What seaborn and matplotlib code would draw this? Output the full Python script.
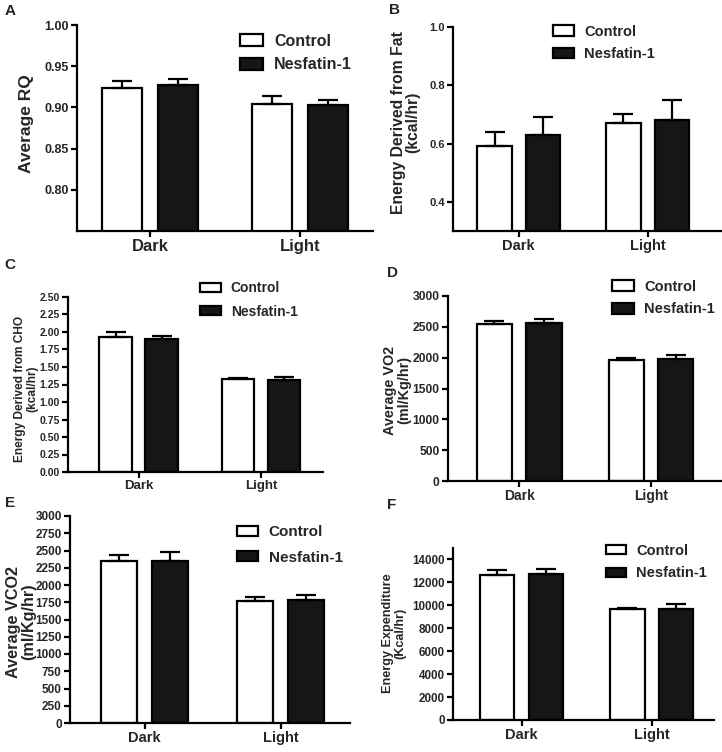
import matplotlib
matplotlib.use('Agg')
import matplotlib.pyplot as plt
import seaborn as sns
import pandas as pd
import numpy as np
from matplotlib.patches import Patch
from matplotlib.ticker import FormatStrFormatter

sns.set_theme(style='ticks')
plt.rcParams['font.family'] = ['Liberation Sans', 'DejaVu Sans']
plt.rcParams['font.weight'] = 'bold'
plt.rcParams['axes.labelweight'] = 'bold'

# data (mean and upper SEM)
phases = ['Dark', 'Light']
groups = ['Control', 'Nesfatin-1']

rq_ctrl = [0.923, 0.904]
rq_ctrl_err = [0.009, 0.010]
rq_nes = [0.927, 0.903]
rq_nes_err = [0.007, 0.006]

fat_ctrl = [0.593, 0.669]
fat_ctrl_err = [0.047, 0.034]
fat_nes = [0.631, 0.682]
fat_nes_err = [0.061, 0.069]

cho_ctrl = [1.93, 1.334]
cho_ctrl_err = [0.07, 0.015]
cho_nes = [1.905, 1.32]
cho_nes_err = [0.035, 0.037]

vo2_ctrl = [2546, 1962]
vo2_ctrl_err = [49, 38]
vo2_nes = [2567, 1973]
vo2_nes_err = [55, 70]

vco2_ctrl = [2346, 1774]
vco2_ctrl_err = [91, 58]
vco2_nes = [2341, 1784]
vco2_nes_err = [135, 76]

ee_ctrl = [12661, 9712]
ee_ctrl_err = [405, 60]
ee_nes = [12775, 9712]
ee_nes_err = [437, 408]

W, H = 722, 752
fig = plt.figure(figsize=(W / 100, H / 100), dpi=100)
fig.patch.set_facecolor('white')

palette = {'Control': 'white', 'Nesfatin-1': '#161616'}
LW = 1.6


def panel(letter, letter_xy, box, xlim, ylim, yticks, yfmt, ylabel, ylab_xy, ylab_size,
          tick_size, xtick_size, leg_xy, leg_size, handle_wh, leg_space,
          ctrl, ctrl_err, nes, nes_err):
    left, top, right, bottom = box
    ax = fig.add_axes([left / W, 1 - bottom / H, (right - left) / W, (bottom - top) / H])
    df = pd.DataFrame({
        'phase': phases * 2,
        'group': [groups[0]] * 2 + [groups[1]] * 2,
        'value': list(ctrl) + list(nes),
    })
    sns.barplot(data=df, x='phase', y='value', hue='group', order=phases,
                hue_order=groups, palette=palette, saturation=1, width=0.75,
                gap=0.29, errorbar=None, edgecolor='black', linewidth=LW,
                legend=False, ax=ax)

    # one-sided error bars on top of the bars, placed from the drawn patches
    bars = sorted(ax.patches, key=lambda p: p.get_x())
    errs = [ctrl_err[0], nes_err[0], ctrl_err[1], nes_err[1]]
    xs = [b.get_x() + b.get_width() / 2 for b in bars]
    hs = [b.get_height() for b in bars]
    ax.errorbar(xs, hs, yerr=[np.zeros(4), errs], fmt='none', ecolor='black',
                elinewidth=LW, capsize=7.5, capthick=LW, zorder=3)

    ax.set_xlim(*xlim)
    ax.set_ylim(*ylim)
    ax.set_yticks(yticks)
    ax.yaxis.set_major_formatter(FormatStrFormatter(yfmt))
    ax.set_xlabel('')
    ax.set_facecolor('white')
    sns.despine(ax=ax)
    for s in ['left', 'bottom']:
        ax.spines[s].set_linewidth(LW)
        ax.spines[s].set_color('black')
    ax.tick_params(axis='both', length=4, width=LW, color='black', pad=2)
    ax.tick_params(axis='y', labelsize=tick_size)
    ax.tick_params(axis='x', labelsize=xtick_size)

    ax.set_ylabel(ylabel, fontsize=ylab_size, fontweight='bold', linespacing=1.0)
    ax.yaxis.label.set_rotation_mode('default')
    ax.yaxis.label.set_va('center')
    ax.yaxis.label.set_ha('center')
    ax.yaxis.set_label_coords((ylab_xy[0] - left) / (right - left),
                              (bottom - ylab_xy[1]) / (bottom - top))

    handles = [Patch(facecolor=palette[g], edgecolor='black', linewidth=LW) for g in groups]
    fs_px = leg_size * 100 / 72
    ax.legend(handles, groups, loc='center left',
              bbox_to_anchor=(leg_xy[0] / W, 1 - leg_xy[1] / H),
              bbox_transform=fig.transFigure, frameon=False,
              borderpad=0, borderaxespad=0, handlelength=handle_wh[0] / fs_px,
              handleheight=handle_wh[1] / fs_px, handletextpad=0.7,
              labelspacing=leg_space, prop={'weight': 'bold', 'size': leg_size})

    fig.text(letter_xy[0] / W, 1 - letter_xy[1] / H, letter, fontsize=11,
             fontweight='bold', ha='center', va='center')
    return ax


panel('A', (10, 11), (77, 25, 373, 231), (-0.487, 1.487), (0.75, 1.0),
      [0.80, 0.85, 0.90, 0.95, 1.00], '%.2f', 'Average RQ', (27, 124), 12.5,
      9, 12, (240, 53), 11.5, (23, 12), 0.55,
      rq_ctrl, rq_ctrl_err, rq_nes, rq_nes_err)

panel('B', (394, 10), (453, 27, 721, 231), (-0.51, 1.57), (0.3, 1.0),
      [0.4, 0.6, 0.8, 1.0], '%.1f', 'Energy Derived from Fat\n(kcal/hr)', (405.5, 122.5), 11.3,
      8, 10.5, (553, 43), 10.5, (21, 10), 0.6,
      fat_ctrl, fat_ctrl_err, fat_nes, fat_nes_err)

panel('C', (10, 265), (68, 297, 323, 472), (-0.576, 1.506), (0, 2.5),
      np.arange(0, 2.51, 0.25), '%.2f', 'Energy Derived from CHO\n(kcal/hr)', (26.5, 389), 8.6,
      7.5, 9.5, (200, 300), 10, (21, 9), 0.65,
      cho_ctrl, cho_ctrl_err, cho_nes, cho_nes_err)

panel('D', (393, 273), (448, 296, 721, 481), (-0.54, 1.53), (0, 3000),
      np.arange(0, 3001, 500), '%d', 'Average VO2\n(ml/Kg/hr)', (397.5, 390), 10.4,
      8.7, 10, (612, 298), 10.5, (22, 11), 0.6,
      vo2_ctrl, vo2_ctrl_err, vo2_nes, vo2_nes_err)

panel('E', (10, 503), (70, 516, 350, 723), (-0.55, 1.51), (0, 3000),
      np.arange(0, 3001, 250), '%d', 'Average VCO2\n(ml/Kg/hr)', (21, 622), 11.7,
      8.5, 10.5, (237, 545), 11, (21, 10), 0.75,
      vco2_ctrl, vco2_ctrl_err, vco2_nes, vco2_nes_err)

panel('F', (392, 505), (453, 548, 714, 720), (-0.527, 1.48), (0, 15000),
      np.arange(0, 14001, 2000), '%d', 'Energy Expenditure\n(Kcal/hr)', (394.5, 633), 9.1,
      8.4, 10.5, (606, 562), 10.5, (20, 9), 0.6,
      ee_ctrl, ee_ctrl_err, ee_nes, ee_nes_err)

fig.savefig('out.png', dpi=100, facecolor='white')
